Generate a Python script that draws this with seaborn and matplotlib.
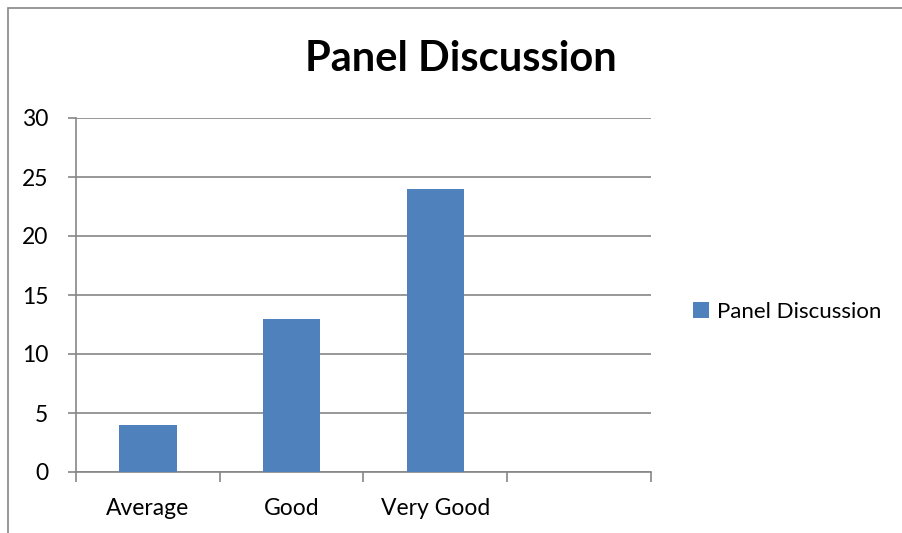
import numpy as np
import pandas as pd
import matplotlib
matplotlib.use("Agg")
import matplotlib.pyplot as plt
import seaborn as sns
from matplotlib.patches import Rectangle, Patch

categories = ["Average", "Good", "Very Good"]
values = [4, 13, 24]
series_name = "Panel Discussion"
yticks = [0, 5, 10, 15, 20, 25, 30]

sns.set_style("white")
plt.rcParams['font.family'] = ['Lato', 'DejaVu Sans']
plt.rcParams['text.color'] = 'black'
plt.rcParams['xtick.color'] = 'black'
plt.rcParams['ytick.color'] = 'black'

df = pd.DataFrame({"cat": categories, "val": values})

fig = plt.figure(figsize=(9.03, 5.33), dpi=100)
ax = fig.add_axes([76/903, 1-472/533, (651-76)/903, (472-118)/533])

sns.barplot(data=df, x="cat", y="val", color="#4F81BD", width=0.4, ax=ax,
            saturation=1, zorder=3, edgecolor="none", linewidth=0)

ax.set_xlim(-0.5, 3.5)
ax.set_ylim(0, 30)
ax.set_yticks(yticks)
ax.set_yticklabels([str(t) for t in yticks], fontsize=16.5)
ax.yaxis.grid(True, color="#868686", linewidth=1.2, zorder=0)
ax.set_axisbelow(True)
ax.set_xlabel("")
ax.set_ylabel("")
for s in ["top", "right"]:
    ax.spines[s].set_visible(False)
ax.spines["left"].set_color("#868686")
ax.spines["bottom"].set_color("#868686")
ax.spines["left"].set_linewidth(1.2)
ax.spines["bottom"].set_linewidth(1.2)

ax.set_xticks(range(len(categories)))
ax.set_xticklabels(categories, fontsize=16.5)
ax.tick_params(axis="x", which="major", length=0, pad=18.5, bottom=True)
ax.set_xticks([-0.5, 0.5, 1.5, 2.5, 3.5], minor=True)
ax.tick_params(axis="x", which="minor", length=7, color="#868686", width=1.2,
               direction="out", bottom=True)
ax.tick_params(axis="y", which="major", length=6, color="#868686", width=1.2,
               direction="out", pad=14, left=True)

fig.text(461/903, 1-59/533, series_name, ha="center", va="center",
         fontsize=30, fontweight="bold")

handle = Patch(facecolor="#4F81BD", edgecolor="none", label=series_name)
fig.legend(handles=[handle], loc="center left", bbox_to_anchor=(673/903, 1-312/533),
           frameon=False, fontsize=16, handlelength=0.7, handleheight=0.7,
           handletextpad=0.4)

fig.patches.append(Rectangle((8/903, -0.1), 2, 1.1 - 8/533, transform=fig.transFigure,
                             fill=False, edgecolor="#868686", linewidth=1.2))

fig.savefig("out.png", dpi=100)
